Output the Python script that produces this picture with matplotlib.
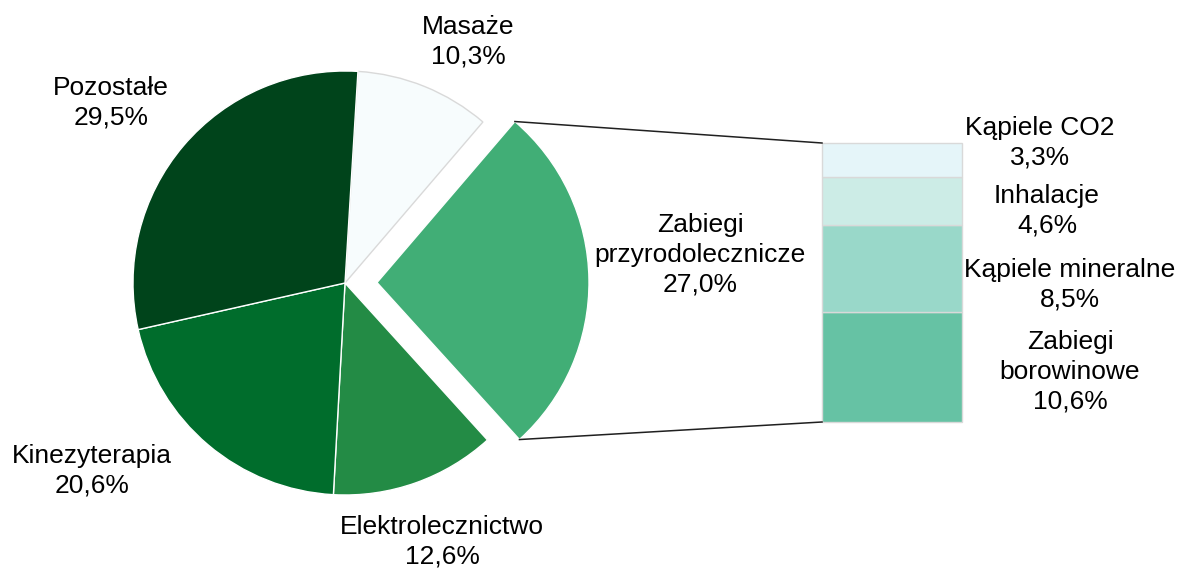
import numpy as np
import matplotlib
matplotlib.use("Agg")
import matplotlib.pyplot as plt

plt.rcParams['font.family'] = ['Liberation Sans', 'DejaVu Sans']

# dane
pie_labels = ["Masaże", "Zabiegi\nprzyrodolecznicze", "Elektrolecznictwo", "Kinezyterapia", "Pozostałe"]
pie_values = [10.3, 27.0, 12.6, 20.6, 29.5]
pie_colors = ["#f7fcfd", "#41ae76", "#238b45", "#006d2c", "#00441b"]

bar_labels = ["Zabiegi\nborowinowe", "Kąpiele mineralne", "Inhalacje", "Kąpiele CO2"]
bar_values = [10.6, 8.5, 4.6, 3.3]
bar_colors = ["#66c2a4", "#99d8c9", "#ccece6", "#e5f5f9"]

W, H = 1179, 568


def fmt(v):
    return f"{v:.1f}%".replace(".", ",")


fig = plt.figure(figsize=(W / 100, H / 100), dpi=100)
ax = fig.add_axes([0, 0, 1, 1])

# wykres kołowy (explode w jednostkach osi)
cx, cy, r = 345, H - 283, 212
explode = [0, 32, 0, 0, 0]
wedges, _ = ax.pie(pie_values, colors=pie_colors, startangle=86.5, counterclock=False,
                   center=(cx, cy), radius=r, explode=explode,
                   wedgeprops=dict(edgecolor="white", linewidth=1))
wedges[0].set_edgecolor("#d9d9d9")

# słupek skumulowany
bx, bw = 892, 140
bar_bottom = H - 422
scale = 279 / sum(bar_values)
bottoms = bar_bottom + np.concatenate([[0], np.cumsum(bar_values)[:-1]]) * scale
ax.bar([bx] * len(bar_values), np.array(bar_values) * scale, bottom=bottoms, width=bw,
       color=bar_colors, edgecolor="#d9d9d9", linewidth=1)

# linie łączące
w = wedges[1]
wx, wy = w.center
bar_top = bar_bottom + sum(bar_values) * scale
for th, ty in [(w.theta2, bar_top), (w.theta1, bar_bottom)]:
    px = wx + w.r * np.cos(np.radians(th))
    py = wy + w.r * np.sin(np.radians(th))
    ax.plot([px, bx - bw / 2], [py, ty], color="#202020", lw=1.1)

# etykiety
fs = 19
pie_pos = [(468, 42), (700, 255), (442, 542), (92, 471), (111, 103)]
for lab, v, (x, y) in zip(pie_labels, pie_values, pie_pos):
    ax.text(x, H - y, f"{lab}\n{fmt(v)}", ha="center", va="center", fontsize=fs,
            color="black", linespacing=1.3)

bar_pos = [(1070, 372), (1070, 285), (1047, 211), (1040, 143)]
for lab, v, (x, y) in zip(bar_labels, bar_values, bar_pos):
    ax.text(x, H - y, f"{lab}\n{fmt(v)}", ha="center", va="center", fontsize=fs,
            color="black", linespacing=1.3)

ax.set_xlim(0, W)
ax.set_ylim(0, H)
ax.set_aspect("auto")
ax.axis("off")

fig.savefig("out.png", dpi=100)
